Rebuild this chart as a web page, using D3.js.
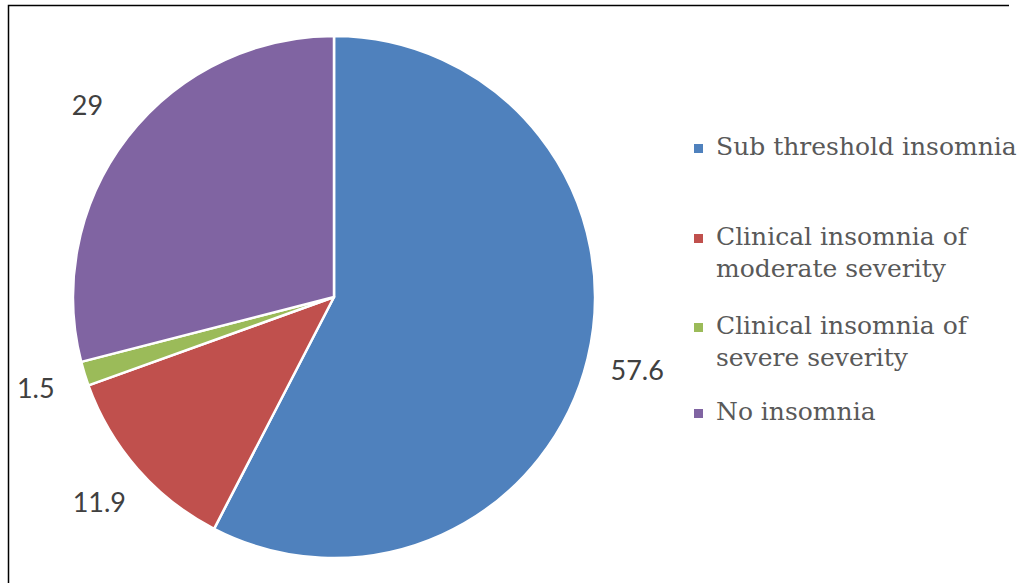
<!DOCTYPE html>
<html>
<head>
<meta charset="utf-8">
<script src="https://cdn.jsdelivr.net/npm/d3@7"></script>
<style>
  html, body { margin: 0; padding: 0; background: #fff; }
  svg { display: block; }
</style>
</head>
<body>
<script>
// Data ////////////////////////////////////////////////////////////////////

const categories = [
  "Sub threshold insomnia",
  "Clinical insomnia of moderate severity",
  "Clinical insomnia of severe severity",
  "No insomnia",
];
const legendLines = [
  ["Sub threshold insomnia"],
  ["Clinical insomnia of", "moderate severity"],
  ["Clinical insomnia of", "severe severity"],
  ["No insomnia"],
];
const values = [57.6, 11.9, 1.5, 29];
const valueLabels = ["57.6", "11.9", "1.5", "29"];
const colors = ["#4f81bd", "#c0504d", "#9bbb59", "#8064a2"];

// Layout //////////////////////////////////////////////////////////////////

const width = 1018;
const height = 583;
const center = { x: 334, y: 297 };
const radius = 261;
const labelRadius = 312;

const svg = d3
  .select("body")
  .append("svg")
  .attr("width", width)
  .attr("height", height);

// frame (only top and left edges show in the crop)
svg
  .append("path")
  .attr("d", "M8.5,583 L8.5,5.5 L1009,5.5")
  .attr("fill", "none")
  .attr("stroke", "#000")
  .attr("stroke-width", 1.5);

drawPie(svg.append("g").attr("transform", `translate(${center.x}, ${center.y})`));
drawLegend(svg.append("g"));

// Pie /////////////////////////////////////////////////////////////////////

function drawPie(root) {
  const pie = d3.pie().sort(null).value((d) => d);
  const arcs = pie(values);

  const arc = d3.arc().innerRadius(0).outerRadius(radius);
  const labelArc = d3.arc().innerRadius(labelRadius).outerRadius(labelRadius);

  root
    .selectAll("path")
    .data(arcs)
    .join("path")
    .attr("d", arc)
    .attr("fill", (_, i) => colors[i])
    .attr("stroke", "#fff")
    .attr("stroke-width", 2.5)
    .attr("stroke-linejoin", "round");

  root
    .selectAll("text")
    .data(arcs)
    .join("text")
    .attr("transform", (d) => `translate(${labelArc.centroid(d)})`)
    .attr("text-anchor", "middle")
    .attr("dy", "0.35em")
    .attr("font-family", "Lato, 'Open Sans', sans-serif")
    .attr("font-size", 27)
    .attr("fill", "#404040")
    .text((_, i) => valueLabels[i]);
}

// Legend //////////////////////////////////////////////////////////////////

function drawLegend(root) {
  const rowY = d3.scaleOrdinal().domain(categories).range([155, 245, 334, 420]);
  const lineHeight = 32;

  const rows = root
    .selectAll("g")
    .data(categories)
    .join("g")
    .attr("transform", (d) => `translate(694, ${rowY(d)})`);

  rows
    .append("rect")
    .attr("x", 0)
    .attr("y", -11)
    .attr("width", 9)
    .attr("height", 9)
    .attr("fill", (_, i) => colors[i]);

  rows
    .append("text")
    .attr("font-family", "'DejaVu Serif', 'Liberation Serif', serif")
    .attr("font-size", 25)
    .attr("fill", "#595959")
    .selectAll("tspan")
    .data((_, i) => legendLines[i])
    .join("tspan")
    .attr("x", 22)
    .attr("y", (_, j) => j * lineHeight)
    .text((d) => d);
}
</script>
</body>
</html>
